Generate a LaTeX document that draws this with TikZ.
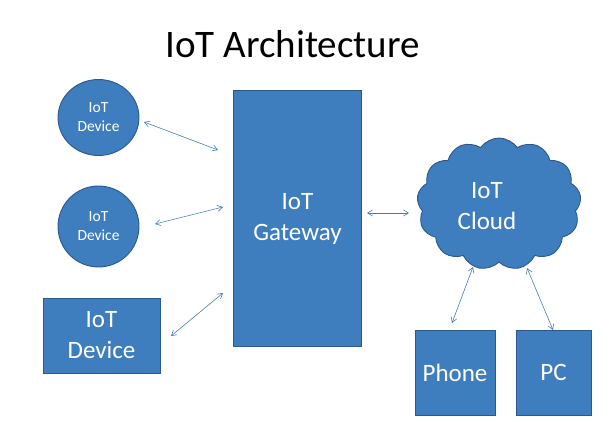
\documentclass[tikz,border=0pt]{standalone}
\usepackage{fontspec}
\setmainfont{Carlito}
\usetikzlibrary{shapes.symbols,shapes.geometric,arrows.meta}
\definecolor{boxfill}{RGB}{62,125,190}
\definecolor{boxline}{RGB}{44,88,140}
\definecolor{arr}{RGB}{70,125,185}
\tikzset{
  blk/.style={draw=boxline,fill=boxfill,line width=0.9pt,text=white,align=center,inner sep=0pt},
  rbox/.style={blk,rectangle},
  cbox/.style={blk,ellipse},
  bigtxt/.style={font=\fontsize{25}{31}\selectfont},
  smalltxt/.style={font=\fontsize{15.5}{19}\selectfont},
  link/.style={draw=arr,line width=0.6pt,{Straight Barb[length=5pt,width=6pt]}-{Straight Barb[length=5pt,width=6pt]}}
}
\begin{document}
\begin{tikzpicture}[x=1pt,y=-1pt]
\useasboundingbox (0,0) rectangle (611,422);
\node (title) at (292.5,44) {\fontsize{39}{43}\selectfont IoT Architecture};
\node[cbox,smalltxt,minimum width=81pt,minimum height=76pt] (d1) at (98.5,117.5) {IoT\\Device};
\node[cbox,smalltxt,minimum width=81pt,minimum height=81pt] (d2) at (98.5,226.5) {IoT\\Device};
\node[rbox,bigtxt,minimum width=117pt,minimum height=75pt] (d3) at (101.5,335.5) {IoT\\Device};
\node[rbox,bigtxt,minimum width=128pt,minimum height=256pt] (gw) at (297.5,218.5) {IoT\\Gateway};
\node[blk,cloud,cloud puffs=13,cloud puff arc=110,aspect=1.3,minimum width=164pt,minimum height=132pt] (cl) at (499,204) {};
\node[text=white,align=center,bigtxt] (cltxt) at (487,206) {IoT\\Cloud};
\node[rbox,bigtxt,minimum width=80pt,minimum height=85pt] (ph) at (455,372.5) {Phone};
\node[rbox,bigtxt,minimum width=75pt,minimum height=85pt] (pc) at (553.5,372.5) {PC};
\coordinate (a1s) at (144,122); \coordinate (a1e) at (218,150);
\coordinate (a2s) at (155,224); \coordinate (a2e) at (223,207);
\coordinate (a3s) at (171,336); \coordinate (a3e) at (223,293);
\coordinate (a4s) at (367,213); \coordinate (a4e) at (409,213);
\coordinate (a5s) at (473,267); \coordinate (a5e) at (452,323);
\coordinate (a6s) at (527,268); \coordinate (a6e) at (553,330);
\draw[link] (a1s) -- (a1e);
\draw[link] (a2s) -- (a2e);
\draw[link] (a3s) -- (a3e);
\draw[link] (a4s) -- (a4e);
\draw[link] (a5s) -- (a5e);
\draw[link] (a6s) -- (a6e);
\end{tikzpicture}
\end{document}
